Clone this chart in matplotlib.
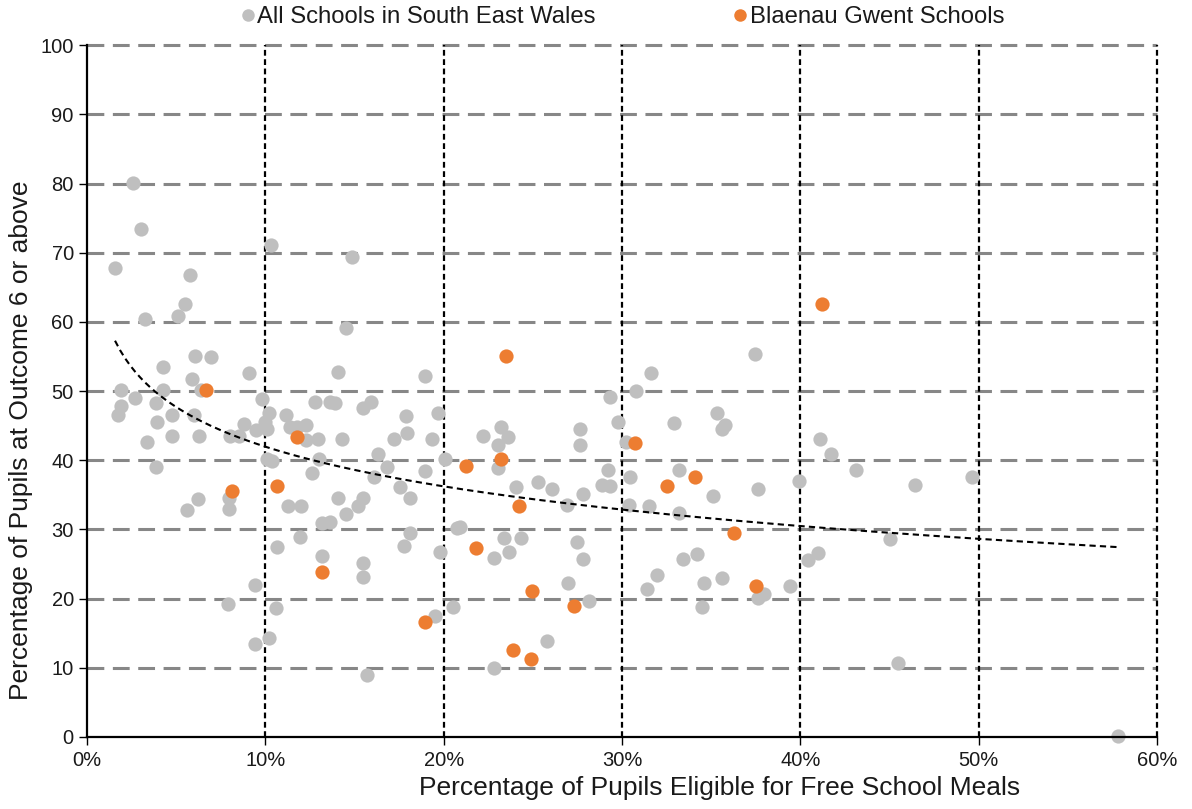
import matplotlib
matplotlib.use('Agg')
import matplotlib.pyplot as plt
from matplotlib.ticker import FuncFormatter
from matplotlib.lines import Line2D
import numpy as np

plt.rcParams['font.family'] = ['Liberation Sans', 'DejaVu Sans']

# all schools in South East Wales (% FSM, % at outcome 6 or above)
all_fsm = [1.57, 2.58, 3.03, 3.25, 5.78, 5.5, 5.1, 10.3, 6.06, 6.95, 4.26, 9.09, 5.89, 1.91, 4.26, 6.4,
	2.69, 1.91, 3.87, 9.8, 1.74, 4.77, 6.0, 3.93, 10.2, 11.15, 8.8, 9.98, 9.5, 10.1, 3.37, 4.77,
	6.28, 8.02, 8.5, 10.1, 10.4, 3.87, 6.2, 5.6, 7.96, 7.96, 11.25, 10.66, 9.42, 7.9, 10.6, 10.2,
	9.42, 14.86, 14.5, 14.1, 18.96, 12.8, 13.6, 13.9, 15.9, 15.5, 17.9, 19.7, 11.4, 11.8, 12.3,
	17.95, 12.3, 12.96, 14.3, 17.2, 19.35, 13.0, 16.3, 16.8, 12.6, 16.1, 18.96, 20.1, 17.55, 18.1,
	14.1, 15.5, 12.0, 15.2, 14.5, 13.2, 13.6, 18.1, 20.75, 11.95, 17.8, 19.8, 13.2, 15.5, 15.5,
	20.5, 19.5, 15.7, 29.3, 30.8, 31.6, 22.2, 23.2, 23.6, 23.05, 27.65, 27.65, 29.8, 30.2, 23.05,
	24.06, 25.3, 26.1, 27.8, 29.2, 28.9, 29.3, 30.45, 26.9, 30.4, 31.5, 20.9, 23.4, 24.35, 22.8,
	23.65, 27.5, 27.8, 26.95, 28.15, 31.4, 25.8, 22.8, 37.46, 32.9, 35.3, 35.8, 35.6, 41.1, 33.2,
	35.1, 37.6, 39.9, 33.2, 33.4, 34.2, 31.97, 34.6, 35.6, 37.6, 37.97, 39.4, 40.4, 41.0, 34.5,
	41.7, 43.1, 46.4, 49.6, 45.0, 45.5, 57.8]
all_outcome = [67.8, 80.1, 73.4, 60.4, 66.8, 62.6, 60.8, 71.2, 55.1, 54.9, 53.5, 52.6, 51.7, 50.1, 50.1, 50.1,
	49.0, 47.8, 48.3, 48.8, 46.5, 46.5, 46.5, 45.5, 46.8, 46.6, 45.2, 45.5, 44.4, 44.6, 42.6, 43.5,
	43.5, 43.5, 43.5, 40.2, 39.9, 39.0, 34.4, 32.8, 34.5, 32.9, 33.4, 27.5, 22.0, 19.3, 18.6, 14.3,
	13.4, 69.4, 59.2, 52.7, 52.2, 48.4, 48.4, 48.3, 48.4, 47.5, 46.4, 46.8, 44.8, 44.8, 45.1,
	43.9, 42.9, 43.1, 43.1, 43.1, 43.1, 40.2, 40.9, 39.0, 38.2, 37.6, 38.4, 40.2, 36.1, 34.5,
	34.5, 34.5, 33.4, 33.4, 32.3, 30.9, 31.1, 29.5, 30.2, 28.9, 27.6, 26.7, 26.2, 25.1, 23.2,
	18.8, 17.5, 9.0, 49.2, 50.0, 52.6, 43.5, 44.8, 43.3, 42.2, 44.5, 42.2, 45.5, 42.6, 38.9,
	36.1, 36.9, 35.8, 35.1, 38.6, 36.4, 36.3, 37.6, 33.5, 33.5, 33.4, 30.3, 28.7, 28.7, 25.9,
	26.8, 28.2, 25.8, 22.3, 19.6, 21.4, 13.9, 10.0, 55.3, 45.4, 46.8, 45.1, 44.6, 43.1, 38.6,
	34.8, 35.8, 37.0, 32.4, 25.7, 26.4, 23.4, 22.3, 23.0, 20.1, 20.7, 21.8, 25.6, 26.6, 18.8,
	40.9, 38.6, 36.4, 37.6, 28.6, 10.7, 0.1]

# Blaenau Gwent schools
bg_fsm = [6.67, 8.13, 10.66, 11.8, 13.2, 18.96, 23.5, 21.25, 23.2, 24.2, 30.7, 21.8, 24.96, 27.3,
	23.9, 24.9, 34.1, 32.5, 36.3, 37.5, 41.2]
bg_outcome = [50.1, 35.5, 36.3, 43.4, 23.8, 16.6, 55.1, 39.2, 40.2, 33.4, 42.5, 27.3, 21.1, 18.9,
	12.6, 11.3, 37.6, 36.3, 29.5, 21.8, 62.6]

x_ticks = [0, 10, 20, 30, 40, 50, 60]
y_ticks = [0, 10, 20, 30, 40, 50, 60, 70, 80, 90, 100]

GREY = '#bfbfbf'
ORANGE = '#ed7d31'

fig = plt.figure(figsize=(11.92, 8.09), dpi=100)
ax = fig.add_axes([0.073, 0.089, 0.8977, 0.855])

ax.set_xlim(0, 60)
ax.set_ylim(0, 100)
ax.set_xticks(x_ticks)
ax.set_yticks(y_ticks)
ax.xaxis.set_major_formatter(FuncFormatter(lambda v, p: '%d%%' % v))
ax.tick_params(labelsize=14.5, length=6, width=1.0, colors='#000000', labelcolor='#1a1a1a')
ax.tick_params(axis='x', pad=4)

# gridlines: grey long dashes horizontally, black short dashes vertically
for y in y_ticks[1:]:
	ax.axhline(y, color='#878787', lw=2.2, dashes=(5.5, 2.8), zorder=1, clip_on=False)
for x in x_ticks[1:]:
	ax.axvline(x, color='black', lw=1.6, dashes=(2.6, 1.6), zorder=1, clip_on=False)

for side in ['top', 'right']:
	ax.spines[side].set_visible(False)
for side in ['left', 'bottom']:
	ax.spines[side].set_linewidth(1.6)
	ax.spines[side].set_zorder(5)

ax.scatter(all_fsm, all_outcome, s=105, color=GREY, lw=0, zorder=3, clip_on=False)
ax.scatter(bg_fsm, bg_outcome, s=105, color=ORANGE, lw=0, zorder=4, clip_on=False)

# logarithmic trendline fitted to all schools
fx = np.array(all_fsm)
b, a = np.polyfit(np.log(fx), np.array(all_outcome), 1)
tx = np.linspace(fx.min(), fx.max(), 200)
ax.plot(tx, a + b * np.log(tx), color='black', lw=1.5, dashes=(3, 2), zorder=4)

fig.text(0.6036, 0.026, 'Percentage of Pupils Eligible for Free School Meals', ha='center', va='center', fontsize=19, color='#1a1a1a')
fig.text(0.018, 0.456, 'Percentage of Pupils at Outcome 6 or above', ha='center', va='center', rotation=90, fontsize=19, color='#1a1a1a')

handles = [Line2D([], [], ls='', marker='o', ms=9, mec='none', mfc=GREY),
	Line2D([], [], ls='', marker='o', ms=9, mec='none', mfc=ORANGE)]
fig.legend(handles, ['All Schools in South East Wales', 'Blaenau Gwent Schools'], loc='center',
	bbox_to_anchor=(0.5226, 0.979), ncol=2, frameon=False, fontsize=17.2, handlelength=0.5,
	handletextpad=0.15, columnspacing=5.8, labelcolor='#1a1a1a')

fig.savefig('out.png', dpi=100)
